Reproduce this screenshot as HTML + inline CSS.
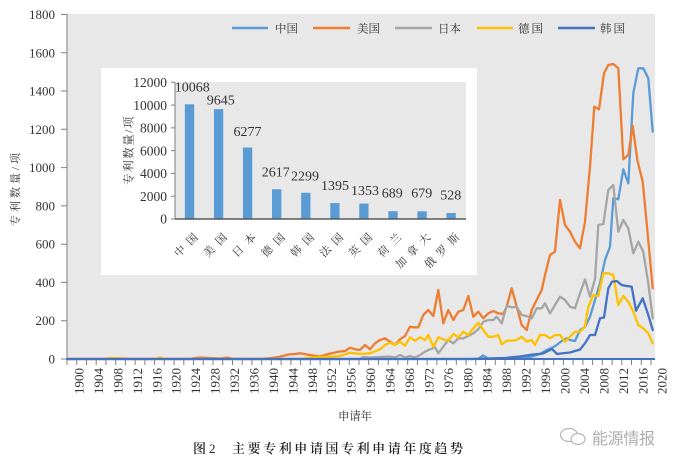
<!DOCTYPE html>
<html><head><meta charset="utf-8"><style>
html,body{margin:0;padding:0;background:#fff;}
svg{display:block;}
.num{font-family:"Liberation Serif",serif;fill:#333;}
.cjk{font-family:"Liberation Serif","Noto Serif CJK SC",serif;fill:#333;}
</style></head><body>
<svg width="674" height="460" viewBox="0 0 674 460" xmlns="http://www.w3.org/2000/svg">
<rect x="0" y="0" width="674" height="460" fill="#fff"/>
<rect x="67" y="14" width="588" height="345" fill="#e8e8e8"/>

<!-- legend -->
<g stroke-width="2.4" fill="none">
<line x1="232" y1="28" x2="268" y2="28" stroke="#5b9bd5"/>
<line x1="313" y1="28" x2="350" y2="28" stroke="#ed7d31"/>
<line x1="395" y1="28" x2="432" y2="28" stroke="#a5a5a5"/>
<line x1="477" y1="28" x2="513" y2="28" stroke="#ffc000"/>
<line x1="558" y1="28" x2="595" y2="28" stroke="#4472c4"/>
</g>
<g class="cjk" font-size="11.5">
<text x="275" y="32.5" textLength="23" lengthAdjust="spacing">中国</text>
<text x="357" y="32.5" textLength="23" lengthAdjust="spacing">美国</text>
<text x="438" y="32.5" textLength="23" lengthAdjust="spacing">日本</text>
<text x="518" y="32.5" textLength="25" lengthAdjust="spacing">德国</text>
<text x="600" y="32.5" textLength="25" lengthAdjust="spacing">韩国</text>
</g>

<!-- y axis -->
<line x1="67" y1="14" x2="67" y2="359" stroke="#808080" stroke-width="1"/>
<path d="M61 14.5H67M61 52.8H67M61 91H67M61 129.3H67M61 167.6H67M61 205.9H67M61 244.2H67M61 282.4H67M61 320.7H67M61 359H67" stroke="#808080" stroke-width="1"/>
<g class="num" font-size="13" text-anchor="end">
<text x="55" y="19">1800</text>
<text x="55" y="57.3">1600</text>
<text x="55" y="95.5">1400</text>
<text x="55" y="133.8">1200</text>
<text x="55" y="172.1">1000</text>
<text x="55" y="210.4">800</text>
<text x="55" y="248.7">600</text>
<text x="55" y="286.9">400</text>
<text x="55" y="325.2">200</text>
<text x="55" y="363.5">0</text>
</g>
<text class="cjk" font-size="11" letter-spacing="3" text-anchor="middle" transform="translate(19,188) rotate(-90)">专利数量/项</text>

<!-- x axis ticks -->
<path stroke="#808080" stroke-width="1" d="M67 359v6M76.7 359v6M86.5 359v6M96.2 359v6M105.9 359v6M115.7 359v6M125.4 359v6M135.1 359v6M144.9 359v6M154.6 359v6M164.3 359v6M174.1 359v6M183.8 359v6M193.5 359v6M203.3 359v6M213 359v6M222.7 359v6M232.5 359v6M242.2 359v6M251.9 359v6M261.7 359v6M271.4 359v6M281.1 359v6M290.9 359v6M300.6 359v6M310.3 359v6M320.1 359v6M329.8 359v6M339.5 359v6M349.3 359v6M359 359v6M368.7 359v6M378.5 359v6M388.2 359v6M397.9 359v6M407.7 359v6M417.4 359v6M427.1 359v6M436.9 359v6M446.6 359v6M456.3 359v6M466.1 359v6M475.8 359v6M485.5 359v6M495.3 359v6M505 359v6M514.7 359v6M524.5 359v6M534.2 359v6M543.9 359v6M553.7 359v6M563.4 359v6M573.1 359v6M582.9 359v6M592.6 359v6M602.3 359v6M612.1 359v6M621.8 359v6M631.5 359v6M641.3 359v6M651 359v6"/>
<g class="num" font-size="13" text-anchor="end">
<text transform="translate(83.5,368) rotate(-90)">1900</text>
<text transform="translate(102.9,368) rotate(-90)">1904</text>
<text transform="translate(122.4,368) rotate(-90)">1908</text>
<text transform="translate(141.8,368) rotate(-90)">1912</text>
<text transform="translate(161.3,368) rotate(-90)">1916</text>
<text transform="translate(180.7,368) rotate(-90)">1920</text>
<text transform="translate(200.1,368) rotate(-90)">1924</text>
<text transform="translate(219.6,368) rotate(-90)">1928</text>
<text transform="translate(239,368) rotate(-90)">1932</text>
<text transform="translate(258.5,368) rotate(-90)">1936</text>
<text transform="translate(277.9,368) rotate(-90)">1940</text>
<text transform="translate(297.3,368) rotate(-90)">1944</text>
<text transform="translate(316.8,368) rotate(-90)">1948</text>
<text transform="translate(336.2,368) rotate(-90)">1952</text>
<text transform="translate(355.7,368) rotate(-90)">1956</text>
<text transform="translate(375.1,368) rotate(-90)">1960</text>
<text transform="translate(394.5,368) rotate(-90)">1964</text>
<text transform="translate(414,368) rotate(-90)">1968</text>
<text transform="translate(433.4,368) rotate(-90)">1972</text>
<text transform="translate(452.9,368) rotate(-90)">1976</text>
<text transform="translate(472.3,368) rotate(-90)">1980</text>
<text transform="translate(491.7,368) rotate(-90)">1984</text>
<text transform="translate(511.2,368) rotate(-90)">1988</text>
<text transform="translate(530.6,368) rotate(-90)">1992</text>
<text transform="translate(550.1,368) rotate(-90)">1996</text>
<text transform="translate(569.5,368) rotate(-90)">2000</text>
<text transform="translate(588.9,368) rotate(-90)">2004</text>
<text transform="translate(608.4,368) rotate(-90)">2008</text>
<text transform="translate(627.8,368) rotate(-90)">2012</text>
<text transform="translate(647.3,368) rotate(-90)">2016</text>
<text transform="translate(666.7,368) rotate(-90)">2020</text>
</g>
<text class="cjk" x="338" y="420" font-size="11.5" textLength="34" lengthAdjust="spacing">申请年</text>

<!-- series -->
<g fill="none" stroke-width="2.3" stroke-linejoin="round" stroke-linecap="round">
<polyline stroke="#5b9bd5" points="67,359 478,359 483,355.5 488,358.5 520,358 530,357 540,354 546.7,350 551.7,348 556.7,345 561.7,341 566.7,338.3 570,340 575,341 580,330 585,327 590,316.7 595,300 600,283.3 605,260 610,246.7 613.3,198.3 618.3,199.3 623.3,169.3 628.3,183.3 633.3,93.3 638.3,68.3 643.3,68.3 648.3,78.3 652.7,131.7"/>
<polyline stroke="#ed7d31" points="67,359 105,359 110,358 125,358.5 130,359 190,359 195,358 200,357.5 210,358 220,358.5 228,357.5 232,358.8 260,359 268.3,358.3 275,357.5 280,356.7 288.3,354.5 295,354 300,353.3 310,355 320,356.5 328.3,354 333,353 338.3,351.7 345,351 350,347.7 355,349.3 360,350 365,345 370,349.3 375,343.3 380,340 385,338.3 390,341.7 395,345 400,339.3 405,336 410,326.7 413.3,327.3 418.3,327.3 423.3,315 428.3,310 433.3,316 438.3,290 443.3,323.3 448.3,310 453.3,320 458.3,311.7 463.3,310 468.3,296 473.3,316.7 478.3,311.7 483.3,318.3 488.3,313.3 493.3,311 498.3,313.3 503.3,314 506.7,306.7 511.7,288.3 516.7,306.7 521.7,325 526.7,330 531.7,310 536.7,300 541.7,290 545,275 550,255 555,251.7 560,200 565,225 570,231.7 575,241.7 580,248.3 585,221.7 590,166.7 594.3,106.7 599,109.3 604,73.3 608.3,65 613.3,64 618.3,68.3 623.3,159.3 628.3,155 632.7,126 637.3,160 642.7,181.7 646.7,223.3 652.7,288.3"/>
<polyline stroke="#a5a5a5" points="67,359 360,359 363,357 370,357.5 380,357 390,356.5 395,357.5 400,355 405,357.5 410,356 415,357.5 420,355 425,351.7 430,349.3 435,347.3 438.3,353.3 443.3,346.7 448.3,340 453.3,343.3 458.3,338.3 463.3,338.3 468.3,336 473.3,333.3 478.3,329.3 483.3,321.7 488.3,320 493.3,320 496.7,316.7 501.7,323.3 506.7,306 511.7,307.3 516.7,306.7 521.7,315 526.7,316 531.7,318.3 536.7,308.3 541.7,308.3 545,303.3 550,313.3 555,305 560,296.7 565,300 570,306.7 575,308.3 580,293.3 585,279.3 590,296.7 595,279.3 598.3,225 603.3,224 608.3,190 613.3,185 618.3,231.7 623.3,220 628.3,228.3 633.3,253.3 638.3,241.7 643.3,251.7 648.3,283.3 652.7,318.3"/>
<polyline stroke="#ffc000" points="67,359 105,359 110,358 120,358.3 125,359 155,359 160,357.5 165,359 300,359 313,357.3 330,356.7 340,356 350,352.7 360,354 370,353.3 380,349.3 385,345 390,342.7 395,345 400,341.7 405,345.7 410,337.3 415,340.7 420,337.3 425,340 428.3,335 433.3,346.7 438.3,337.3 443.3,339.3 448.3,340.7 453.3,334 458.3,337.3 463.3,331.7 468.3,335 473.3,328.3 478.3,322.7 483.3,330 488.3,336.7 493.3,336.7 498.3,335 501.7,344.3 506.7,340.7 511.7,340.7 516.7,340 521.7,336.7 526.7,341.7 531.7,340 535,345 540,335 545,335 550,338.3 555,335 560,335 565,341.7 570,336.7 575,331.7 580,331.7 585,326.7 588.3,306.7 593.3,295 598.3,296 603.3,273.3 608.3,273.3 613.3,275 618.3,305 623.3,296 628.3,301.7 633.3,311.7 638.3,325 643.3,328.3 648.3,333.3 652.7,343.3"/>
<polyline stroke="#4472c4" points="67,359 470,359 490,358.5 505,358 520,356.5 533,354.5 543,353.5 548,351 552,349 557,354 565,353 570,352.5 575,351 580,349.5 585,343.3 590,335 595,335 600,318.3 604,317.5 608.3,288.3 612,281.7 616.7,281 621.7,285 626.7,286 631.7,286.7 636,310.7 642.7,298.3 648.3,315 652.7,330"/>
</g>
<line x1="67" y1="359" x2="655" y2="359" stroke="#4472c4" stroke-width="2"/>

<!-- inset -->
<rect x="101" y="68" width="376" height="207" fill="#fff"/>
<rect x="175" y="82" width="291" height="137" fill="#e8e8e8"/>
<line x1="175" y1="82" x2="175" y2="219" stroke="#808080" stroke-width="1"/>
<path d="M171 82.3H175M171 105.1H175M171 127.9H175M171 150.6H175M171 173.4H175M171 196.2H175M171 219H175" stroke="#808080" stroke-width="1"/>
<g fill="#5b9bd5">
<rect x="184.85" y="104.3" width="9.3" height="114.7"/>
<rect x="213.95" y="109.1" width="9.3" height="109.9"/>
<rect x="242.95" y="147.5" width="9.3" height="71.5"/>
<rect x="272.05" y="189.2" width="9.3" height="29.8"/>
<rect x="301.15" y="192.8" width="9.3" height="26.2"/>
<rect x="330.25" y="203.1" width="9.3" height="15.9"/>
<rect x="359.25" y="203.6" width="9.3" height="15.4"/>
<rect x="388.35" y="211.2" width="9.3" height="7.8"/>
<rect x="417.45" y="211.3" width="9.3" height="7.7"/>
<rect x="446.45" y="213" width="9.3" height="6"/>
</g>
<line x1="175" y1="219" x2="466" y2="219" stroke="#595959" stroke-width="1.5"/>
<g class="num" font-size="13.5" text-anchor="end">
<text x="167" y="87">12000</text>
<text x="167" y="109.8">10000</text>
<text x="167" y="132.6">8000</text>
<text x="167" y="155.3">6000</text>
<text x="167" y="178.1">4000</text>
<text x="167" y="200.9">2000</text>
<text x="167" y="223.7">0</text>
</g>
<text class="cjk" font-size="11.5" letter-spacing="1.5" text-anchor="middle" transform="translate(132.5,150) rotate(-90)">专利数量/项</text>
<g class="num" font-size="14" text-anchor="middle">
<text x="192.3" y="91.7">10068</text>
<text x="220.8" y="104.3">9645</text>
<text x="247.5" y="136">6277</text>
<text x="275.8" y="176.7">2617</text>
<text x="305" y="180.7">2299</text>
<text x="335" y="190">1395</text>
<text x="365" y="195">1353</text>
<text x="392.2" y="197.3">689</text>
<text x="421.7" y="197.3">679</text>
<text x="450.7" y="199.3">528</text>
</g>
<g class="cjk" font-size="11" text-anchor="end">
<text transform="translate(198.5,238) rotate(-45)" textLength="28" lengthAdjust="spacing">中国</text>
<text transform="translate(227.6,238) rotate(-45)" textLength="28" lengthAdjust="spacing">美国</text>
<text transform="translate(256.6,238) rotate(-45)" textLength="28" lengthAdjust="spacing">日本</text>
<text transform="translate(285.7,238) rotate(-45)" textLength="28" lengthAdjust="spacing">德国</text>
<text transform="translate(314.8,238) rotate(-45)" textLength="28" lengthAdjust="spacing">韩国</text>
<text transform="translate(343.9,238) rotate(-45)" textLength="28" lengthAdjust="spacing">法国</text>
<text transform="translate(372.9,238) rotate(-45)" textLength="28" lengthAdjust="spacing">英国</text>
<text transform="translate(402,238) rotate(-45)" textLength="28" lengthAdjust="spacing">荷兰</text>
<text transform="translate(431.1,238) rotate(-45)" textLength="44" lengthAdjust="spacing">加拿大</text>
<text transform="translate(460.1,238) rotate(-45)" textLength="44" lengthAdjust="spacing">俄罗斯</text>
</g>

<!-- caption -->
<g font-family="'Liberation Serif','Noto Serif CJK SC',serif" fill="#222" font-size="13" font-weight="600">
<text x="193" y="453">图</text>
<text x="209" y="453" font-weight="normal">2</text>
<text x="232" y="453" textLength="231" lengthAdjust="spacing">主要专利申请国专利申请年度趋势</text>
</g>

<!-- watermark -->
<g fill="none" stroke="#b5b5b5" stroke-width="1.2">
<ellipse cx="569" cy="435" rx="8.5" ry="6.5"/>
<ellipse cx="578" cy="439" rx="7" ry="5.5" fill="#fff"/>
</g>
<text x="592" y="444" font-family="'Liberation Sans','Noto Sans CJK SC',sans-serif" font-size="16" fill="#adadad" textLength="63" lengthAdjust="spacing">能源情报</text>
</svg>
</body></html>
